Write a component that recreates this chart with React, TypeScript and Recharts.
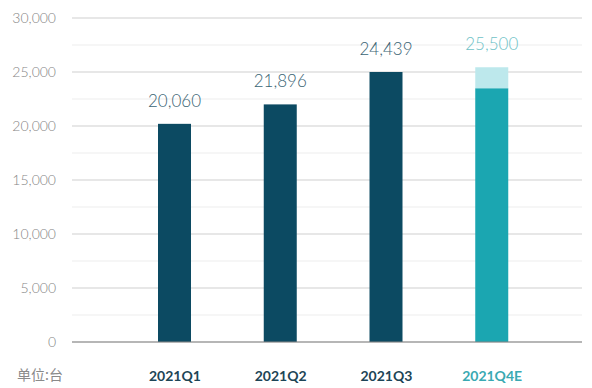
import React from 'react'
import {
  BarChart, Bar, XAxis, YAxis, CartesianGrid, LabelList,
} from 'recharts'

// ── Data ──────────────────────────────────────────────────────────────────────

const quarters = ['2021Q1', '2021Q2', '2021Q3', '2021Q4E']
// bar heights as drawn in the picture
const actualValues = [20200, 22000, 25000, 23500]
const estimateExtra = [0, 0, 0, 1950]
// printed value labels
const valueLabels = ['20,060', '21,896', '24,439', '25,500']
// every 2,500 gets a grid line, only every 5,000 a label
const yTicks = [0, 2500, 5000, 7500, 10000, 12500, 15000, 17500, 20000, 22500, 25000, 27500, 30000]

const DARK = '#0c4a62'
const TEAL = '#1ba6b1'
const LIGHT = '#bde8ec'
const FONT = 'Lato, "Noto Sans", sans-serif'

const rows = quarters.map((q, i) => ({
  name: q,
  actual: actualValues[i],
  extra: estimateExtra[i],
  label: valueLabels[i],
  estimate: q.endsWith('E'),
}))

// ── Pieces ────────────────────────────────────────────────────────────────────

function makeTopLabel(onStack: boolean) {
  return function TopLabel(props: any) {
    const { x, y, width, value } = props
    const row = rows.find((r) => r.label === value)
    if (!row) return null
    // plain quarters are labelled on the actual bar, the estimate on its extra part
    if (onStack !== row.extra > 0) return null
    return (
      <text x={x + width / 2} y={y - 17} textAnchor="middle"
        style={{ fontSize: 17, fontWeight: 300, fill: row.estimate ? '#6fc2c7' : '#3a6474', fontFamily: FONT }}>
        {value}
      </text>
    )
  }
}
const ActualLabel = makeTopLabel(false)
const ExtraLabel = makeTopLabel(true)

function QuarterTick(props: any) {
  const { x, y, payload } = props
  const est = String(payload.value).endsWith('E')
  return (
    <text x={x} y={y + 39} textAnchor="middle"
      style={{ fontSize: 14, fontWeight: 700, fill: est ? '#3aa9b2' : '#1d4556', fontFamily: FONT }}>
      {payload.value}
    </text>
  )
}

function GridLine(props: any) {
  let i = props.index
  if (i == null && props.key != null) i = parseInt(String(props.key).split('-').pop() ?? '0', 10)
  const major = (i ?? 0) % 2 === 0
  return (
    <line x1={props.x1} y1={props.y1} x2={props.x2} y2={props.y2}
      stroke={major ? '#cfcfcf' : '#ededed'} strokeWidth={1} fill="none" />
  )
}

export default function App() {
  return (
    <div style={{ position: 'relative', width: 576, height: 380, fontFamily: FONT }}>
      <BarChart width={576} height={380} data={rows}
        margin={{ top: 10, right: 2, bottom: 16, left: 0 }}>
        <CartesianGrid vertical={false} horizontal={(p: any) => <GridLine {...p} />} />
        <XAxis dataKey="name" height={30} tickLine={false} tickSize={0} tickMargin={0}
          axisLine={{ stroke: '#858585' }} padding={{ left: 50, right: 37 }}
          tick={<QuarterTick />} interval={0} />
        <YAxis width={64} domain={[0, 30000]} ticks={yTicks} axisLine={false}
          tickLine={false} tickSize={0} tickMargin={16} interval={0}
          tickFormatter={(v: number) => (v % 5000 === 0 ? v.toLocaleString('en-US') : '')}
          tick={{ fontSize: 14, fontWeight: 300, fill: '#858585', fontFamily: FONT }} />
        <Bar dataKey="actual" stackId="a" barSize={33} isAnimationActive={false}
          shape={(p: any) => (
            <rect x={p.x} y={p.y} width={p.width} height={p.height}
              fill={rows[p.index].estimate ? TEAL : DARK} />
          )}>
          <LabelList dataKey="label" content={<ActualLabel />} />
        </Bar>
        <Bar dataKey="extra" stackId="a" barSize={33} fill={LIGHT} isAnimationActive={false}>
          <LabelList dataKey="label" content={<ExtraLabel />} />
        </Bar>
      </BarChart>
      <span style={{
        position: 'absolute', left: 9, top: 356, fontSize: 14, lineHeight: '20px', color: '#8a8a8a',
        fontFamily: '"Noto Sans CJK SC", sans-serif',
      }}>单位:台</span>
    </div>
  )
}
